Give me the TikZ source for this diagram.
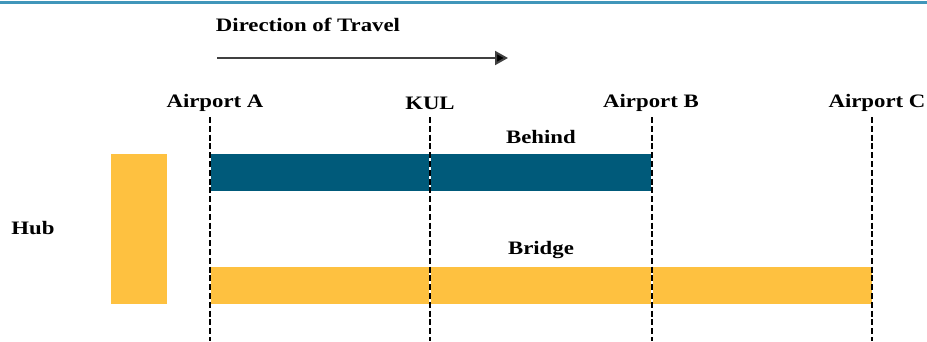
\documentclass[tikz,border=0pt]{standalone}
\usepackage{fontspec}
\setmainfont[FakeStretch=1.2]{Liberation Serif}
\usetikzlibrary{arrows.meta}
\definecolor{rulecol}{RGB}{64,150,186}
\definecolor{behindcol}{RGB}{0,90,122}
\definecolor{bridgecol}{RGB}{254,193,64}
\tikzset{
  lbl/.style={font=\fontsize{19}{21}\selectfont\bfseries, inner sep=0pt},
  bar/.style={draw=none, inner sep=0pt, minimum height=37pt},
  guide/.style={black, line width=2.2pt, dash pattern=on 6pt off 2.8pt},
  gap/.style={white, line width=2.2pt},
  travel/.style={draw=black!75, line width=2pt, -{Triangle[length=13pt,width=14pt,fill=black]}}
}
\begin{document}
\begin{tikzpicture}[x=1pt,y=-1pt]
\useasboundingbox (0,0) rectangle (927,341);
% top rule
\draw[rulecol, line width=3pt] (0,2) -- (927,2);
% direction of travel
\node[lbl] (dirlbl) at (308,25) {Direction of Travel};
\coordinate (arrA) at (217,58);
\coordinate (arrB) at (508,58);
\draw[travel] (arrA) -- (arrB);
% hub
\node[lbl] (hublbl) at (33,228) {Hub};
\node[bar, fill=bridgecol, minimum width=56pt, minimum height=150pt] (hub) at (139,229) {};
% bars
\node[bar, fill=behindcol, minimum width=442pt] (behind) at (431,172.5) {};
\node[bar, fill=bridgecol, minimum width=662pt] (bridge) at (541,285.5) {};
\node[lbl] (behindlbl) at (541,137) {Behind};
\node[lbl] (bridgelbl) at (541,250) {Bridge};
% airports
\node[lbl] (apA) at (215,103) {Airport A};
\node[lbl] (kul) at (430,103) {KUL};
\node[lbl] (apB) at (651,103) {Airport B};
\node[lbl] (apC) at (877,103) {Airport C};
\foreach \n/\x in {gA/210,gK/430,gB/652,gC/872}{
  \coordinate (\n top) at (\x,117);
  \coordinate (\n bot) at (\x,341);
}
% white gaps where the guides cross the bars
\foreach \n in {gA,gK,gB}{
  \draw[gap] (\n top |- behind.north) -- (\n top |- behind.south);
}
\foreach \n in {gA,gK,gB}{
  \draw[gap] (\n top |- bridge.north) -- (\n top |- bridge.south);
}
\foreach \n in {gA,gK,gB,gC}{
  \draw[guide] (\n top) -- (\n bot);
}
\end{tikzpicture}
\end{document}
